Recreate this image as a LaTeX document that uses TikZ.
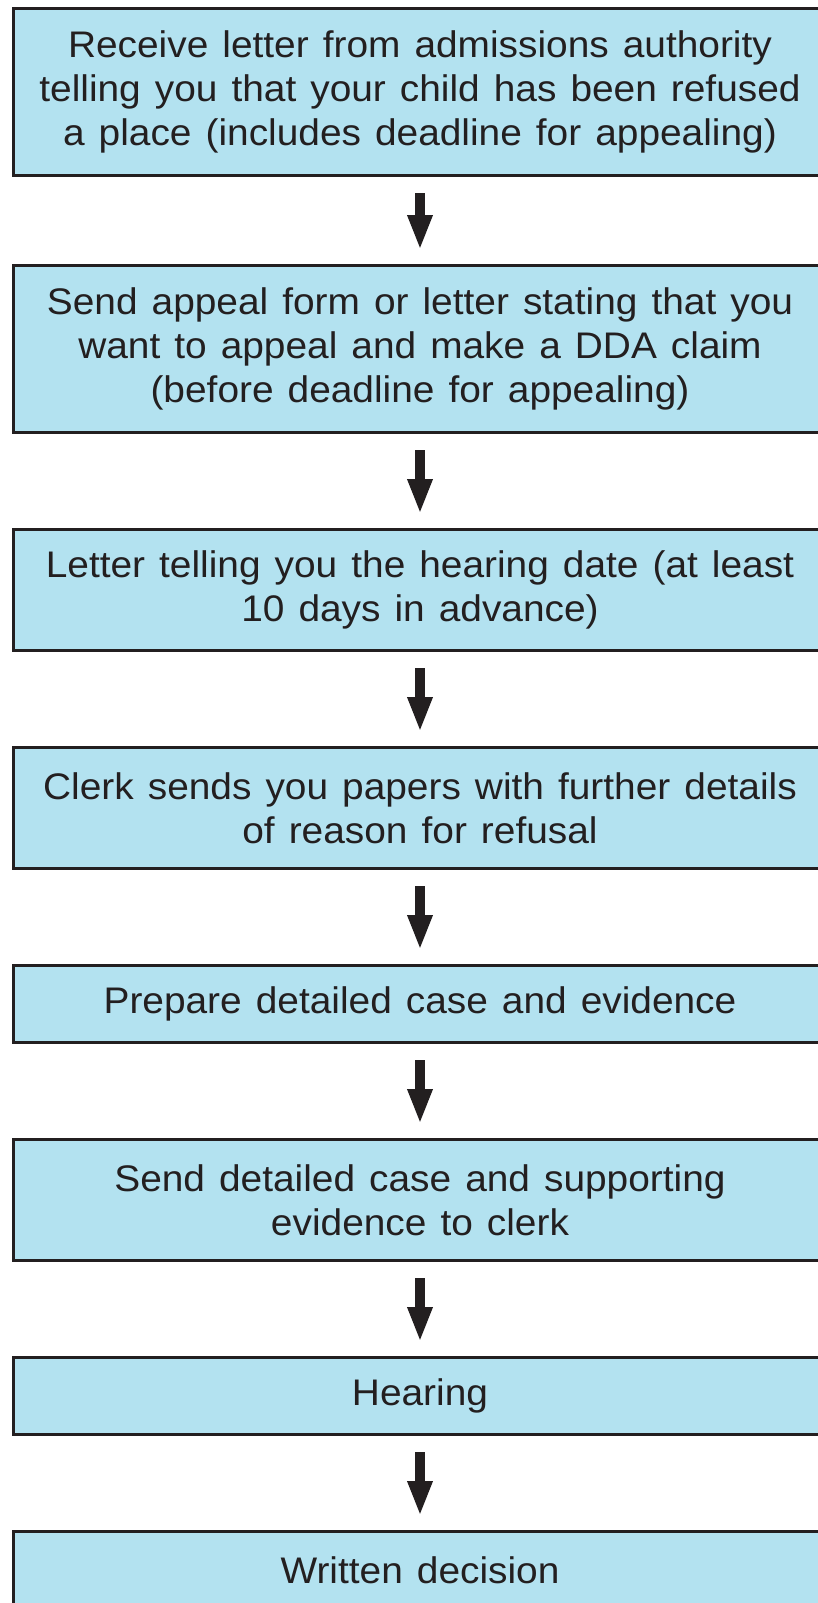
\documentclass[tikz,border=0pt]{standalone}
\usepackage{fontspec}
\setmainfont[FakeStretch=1.05,WordSpace=1.3]{Liberation Sans}
\usepackage{tikz}
\usetikzlibrary{arrows.meta,positioning}
\definecolor{boxblue}{RGB}{179,226,240}
\definecolor{inkdark}{RGB}{35,31,32}
\tikzset{
    line/.style  = {-{Triangle[length=35pt,width=23pt]}, line width=10pt, draw=inkdark,
            shorten <=16pt, shorten >=14pt},
    block/.style = {draw=inkdark, line width=3pt, fill=boxblue, text=inkdark,
            minimum width=813pt, align=center, inner sep=0pt,
            font=\fontsize{37}{44}\selectfont},
    oneline/.style   = {block, minimum height=77pt},
    twoline/.style   = {block, minimum height=121pt},
    threeline/.style = {block, minimum height=167pt},
}

\begin{document}
\begin{tikzpicture}[node distance=94pt]
            \useasboundingbox (0pt,0pt) rectangle (817pt,-1603pt);
            % Nodes
            \node[threeline] (receive) at (420pt,-92pt) {Receive letter from admissions authority\\ telling you that your child has been refused\\ a place (includes deadline for appealing)};
            \node[threeline, below=87pt of receive] (appeal) {Send appeal form or letter stating that you\\ want to appeal and make a DDA claim\\ (before deadline for appealing)};
            \node[twoline, below=of appeal] (date) {Letter telling you the hearing date (at least\\ 10 days in advance)};
            \node[twoline, below=of date] (papers) {Clerk sends you papers with further details\\ of reason for refusal};
            \node[oneline, below=of papers] (prepare) {Prepare detailed case and evidence};
            \node[twoline, below=of prepare] (send) {Send detailed case and supporting\\ evidence to clerk};
            \node[oneline, below=of send] (hearing) {Hearing};
            \node[oneline, below=of hearing] (decision) {Written decision};

            % Arrows
            \draw[line] (receive) -- (appeal);
            \draw[line] (appeal) -- (date);
            \draw[line] (date) -- (papers);
            \draw[line] (papers) -- (prepare);
            \draw[line] (prepare) -- (send);
            \draw[line] (send) -- (hearing);
            \draw[line] (hearing) -- (decision);
\end{tikzpicture}
\end{document}
